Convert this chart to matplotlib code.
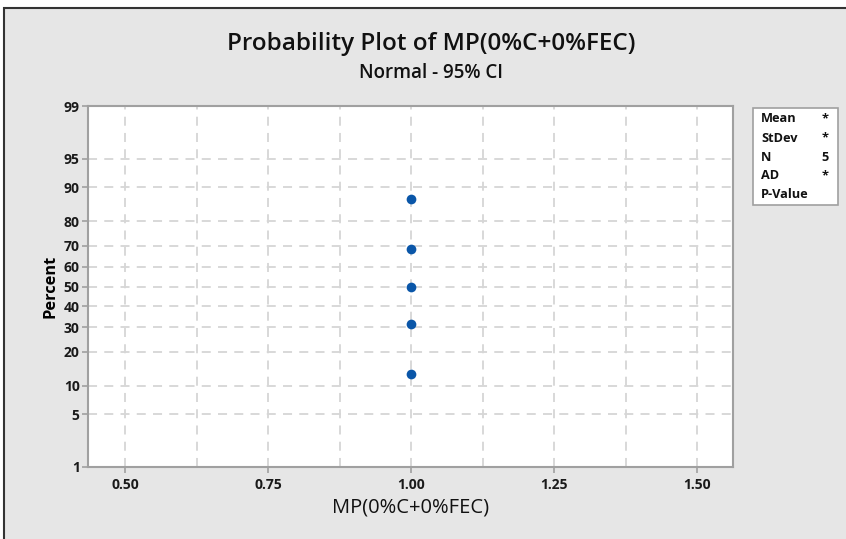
import matplotlib
matplotlib.use("Agg")
import matplotlib.pyplot as plt
from matplotlib.patches import Rectangle
from statistics import NormalDist

plt.rcParams['font.family'] = ['Open Sans', 'DejaVu Sans']

# data
mp_values = [1.0, 1.0, 1.0, 1.0, 1.0]
percents = [12.96, 31.48, 50.0, 68.52, 87.04]
y_ticks = [1, 5, 10, 20, 30, 40, 50, 60, 70, 80, 90, 95, 99]
x_ticks = [0.50, 0.75, 1.00, 1.25, 1.50]
x_grid = [0.50, 0.625, 0.75, 0.875, 1.00, 1.125, 1.25, 1.375, 1.50]
stat_names = ["Mean", "StDev", "N", "AD", "P-Value"]
stat_values = ["*", "*", "5", "*", ""]

nd = NormalDist()
def z(p):
    return nd.inv_cdf(p / 100.0)

bg = '#e6e6e6'
fig = plt.figure(figsize=(8.46, 5.39), dpi=100)
fig.patch.set_facecolor('white')
# grey panel with dark frame
fig.patches.append(Rectangle((4/846, -0.05), 1.1, 0.05 + 1 - 8/539,
                             transform=fig.transFigure, facecolor=bg,
                             edgecolor='#333333', linewidth=1.5, zorder=-10))

ax = fig.add_axes([88/846, 1 - 467/539, 645/846, 361/539])
ax.set_facecolor('white')

# grid
for gx in x_grid:
    ax.axvline(gx, color='#d6d6d6', linestyle=(0, (5, 4)), linewidth=1.3, zorder=1)
for t in y_ticks[1:-1]:
    ax.axhline(z(t), color='#d6d6d6', linestyle=(0, (5, 4)), linewidth=1.3, zorder=1)

ax.plot(mp_values, [z(p) for p in percents], 'o', color='#0a56a8',
        markersize=7, zorder=3, markeredgewidth=0)

ax.set_xlim(0.4353, 1.5628)
ax.set_ylim(z(1), z(99))
ax.set_xticks(x_ticks)
ax.set_xticklabels([f"{v:.2f}" for v in x_ticks], fontsize=10,
                   fontweight='bold', color='#1a1a1a')
ax.set_yticks([z(t) for t in y_ticks])
ax.set_yticklabels([str(t) for t in y_ticks], fontsize=10,
                   fontweight='bold', color='#1a1a1a')
ax.tick_params(axis='both', color='#a0a0a0', length=4, width=1.2)
ax.tick_params(axis='x', pad=4)
ax.tick_params(axis='y', pad=2)
for s in ax.spines.values():
    s.set_color('#a0a0a0')
    s.set_linewidth(1.5)

ax.set_ylabel("Percent", fontsize=11.8, fontweight='bold', labelpad=4)
ax.set_xlabel("MP(0%C+0%FEC)", fontsize=14.5, labelpad=4, color='#111111')

fig.text(431/846, 1 - 44/539, "Probability Plot of MP(0%C+0%FEC)", fontsize=17.5,
         fontweight='semibold', ha='center', va='center', color='#111111')
fig.text(431/846, 1 - 73/539, "Normal - 95% CI", fontsize=13.5,
         fontweight='semibold', ha='center', va='center', color='#111111')

# stats box
fig.patches.append(Rectangle((753/846, 1 - 205/539), 85/846, 97/539,
                             transform=fig.transFigure, facecolor='white',
                             edgecolor='#a0a0a0', linewidth=1.2, zorder=5))
for i, (nm, vl) in enumerate(zip(stat_names, stat_values)):
    y = 1 - (119 + i * 19) / 539
    fig.text(761/846, y, nm, fontsize=9.2, fontweight='bold', ha='left',
             va='center', color='#111111', zorder=6)
    fig.text(829/846, y, vl, fontsize=9.2, fontweight='bold', ha='right',
             va='center', color='#111111', zorder=6)

fig.savefig('out.png', dpi=100, facecolor=fig.get_facecolor())
